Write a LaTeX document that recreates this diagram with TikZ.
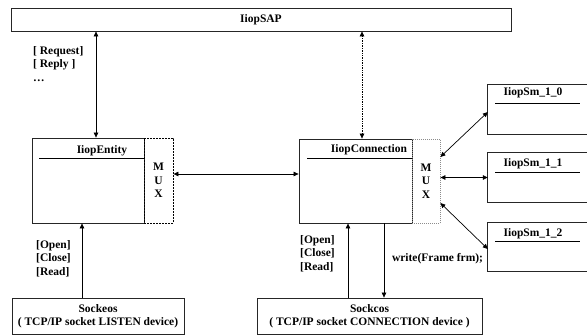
\documentclass[tikz,border=0pt]{standalone}
\usepackage{fontspec}
\setmainfont{Liberation Serif}
\usetikzlibrary{arrows.meta}

\begin{document}
\begin{tikzpicture}[x=1pt, y=-1pt,
		font=\fontsize{11.5}{13.5}\selectfont\bfseries,
		box/.style={draw=black!85, line width=0.8pt, rectangle, inner sep=0pt},
		openbox/.style={rectangle, inner sep=0pt},
		muxbox/.style={draw=black, line width=0.9pt, dash pattern=on 2pt off 1pt, inner sep=0pt, align=center},
		dbl/.style={{Triangle[length=5pt,width=4.5pt]}-{Triangle[length=5pt,width=4.5pt]}, line width=0.7pt},
		sgl/.style={-{Triangle[length=5pt,width=4.5pt]}, line width=0.7pt},
		uline/.style={line width=0.8pt}]
			\useasboundingbox (0,0) rectangle (587,335);

			% service access point
			\node[box, minimum width=500pt, minimum height=23pt] (SAP) at (261,19.5) {IiopSAP};

			% entity with its mux
			\node[box, minimum width=112pt, minimum height=85pt] (Entity) at (88,180.5) {};
			\node[muxbox, minimum width=29pt, minimum height=85pt] (EntityMux) at (158.5,180.5) {M\\U\\X};
			\node (EntityT) at (102,151) {IiopEntity};
			\draw[uline] (39,158) -- (Entity.east |- 0,158);

			% connection with its mux
			\node[box, minimum width=113pt, minimum height=84pt] (Conn) at (355.5,181) {};
			\node[muxbox, draw=black!45, line width=0.8pt, dash pattern=on 1pt off 1pt, minimum width=28pt, minimum height=84pt] (ConnMux) at (426,181) {M\\U\\X};
			\node (ConnT) at (369,150) {IiopConnection};
			\draw[uline] (307,158) -- (Conn.east |- 0,158);

			% state machines
			\node[openbox, minimum width=99pt, minimum height=49pt] (Sm0) at (537.5,109.5) {};
			\node[openbox, minimum width=99pt, minimum height=49pt] (Sm1) at (537.5,177.5) {};
			\node[openbox, minimum width=99pt, minimum height=49pt] (Sm2) at (537.5,247) {};
			\foreach \s in {Sm0,Sm1,Sm2}
				\draw[line width=0.8pt, black!85] (\s.north east) -- (\s.north west) -- (\s.south west) -- (\s.south east);
			\node (Sm0T) at (533,93) {IiopSm\_1\_0};
			\node (Sm1T) at (533,164) {IiopSm\_1\_1};
			\node (Sm2T) at (533,234) {IiopSm\_1\_2};
			\draw[uline] (495,103) -- (580,103);
			\draw[uline] (495,172) -- (580,172);
			\draw[uline] (495,241.5) -- (580,241.5);

			% sockets
			\node[box, minimum width=172pt, minimum height=36pt, align=center] (SockL) at (98,316) {Sockeos\\( TCP/IP socket LISTEN device)};
			\node[box, minimum width=225pt, minimum height=36pt, align=center] (SockR) at (369.5,316) {Sockcos\\( TCP/IP socket CONNECTION device )};

			% labels
			\node[anchor=north west, align=left, inner sep=0pt] (ReqL) at (33,46) {{[} Request{]}\\{[} Reply {]}\\\dots};
			\node[anchor=north west, align=left, inner sep=0pt] (OpenL) at (36,240) {{[}Open{]}\\{[}Close{]}\\{[}Read{]}};
			\node[anchor=north west, align=left, inner sep=0pt] (OpenR) at (300,235) {{[}Open{]}\\{[}Close{]}\\{[}Read{]}};
			\node (WriteL) at (437.5,259) {write(Frame frm);};

			% connectors
			\draw[dbl] ([xshift=8pt]Entity.north) -- ([xshift=8pt]Entity.north |- SAP.south);
			\draw[dbl, densely dotted] ([xshift=6.5pt]Conn.north) -- ([xshift=6.5pt]Conn.north |- SAP.south);
			\draw[dbl] ([yshift=6.5pt]EntityMux.east) -- ([yshift=6.5pt]EntityMux.east -| Conn.west);
			\draw[dbl] ([yshift=24pt]ConnMux.east) -- ([yshift=-2.5pt]Sm0.west);
			\draw[dbl] (ConnMux.east |- Sm1.west) -- (Sm1.west);
			\draw[dbl] ([yshift=-22pt]ConnMux.east) -- ([yshift=-2pt]Sm2.west);
			\draw[sgl] ([xshift=-16pt]SockL.north) -- ([xshift=-16pt]SockL.north |- Entity.south);
			\draw[sgl] ([xshift=-21.5pt]SockR.north) -- ([xshift=-21.5pt]SockR.north |- Conn.south);
			\draw[sgl] ([xshift=14.5pt]SockR.north |- Conn.south) -- ([xshift=14.5pt]SockR.north);
		\end{tikzpicture}
\end{document}
